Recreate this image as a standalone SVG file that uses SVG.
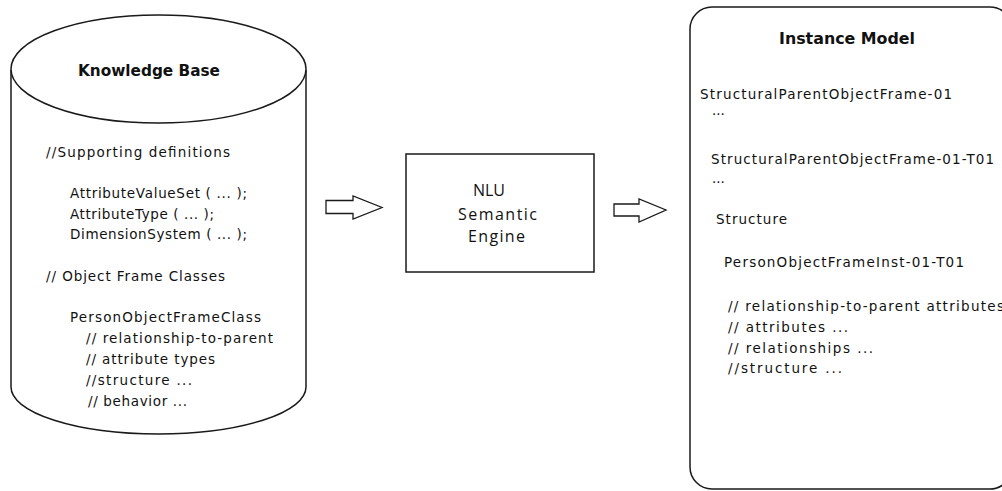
<svg xmlns="http://www.w3.org/2000/svg" width="1002" height="491" viewBox="0 0 1002 491">
<style>
.sh{fill:#fff;stroke:#1a1a1a;stroke-width:1.5}
.t{font-family:"DejaVu Sans",Verdana,sans-serif;font-size:13.5px;fill:#111}
.b{font-family:"DejaVu Sans",Verdana,sans-serif;font-size:15px;font-weight:bold;fill:#111}
.n{font-family:"Open Sans","DejaVu Sans",sans-serif;font-size:16px;fill:#111}
.ar{fill:#fff;stroke:#1a1a1a;stroke-width:1.3}
</style>
<rect width="1002" height="491" fill="#fff"/>
<g id="kb">
<path class="sh" d="M11,70 L11,387 A147.5,47 0 0 0 306,387 L306,70"/>
<ellipse class="sh" cx="158.5" cy="69" rx="147.5" ry="54"/>
<text class="b" x="78" y="76" textLength="142" lengthAdjust="spacingAndGlyphs">Knowledge Base</text>
<text class="t" x="46" y="157" textLength="184">//Supporting definitions</text>
<text class="t" x="70" y="198" textLength="177">AttributeValueSet ( ... );</text>
<text class="t" x="70" y="219" textLength="144">AttributeType ( ... );</text>
<text class="t" x="70" y="239" textLength="177">DimensionSystem ( ... );</text>
<text class="t" x="46" y="281" textLength="179">// Object Frame Classes</text>
<text class="t" x="70" y="322" textLength="191">PersonObjectFrameClass</text>
<text class="t" x="86" y="343" textLength="187">// relationship-to-parent</text>
<text class="t" x="86" y="364" textLength="129">// attribute types</text>
<text class="t" x="86" y="385" textLength="106">//structure ...</text>
<text class="t" x="88" y="406" textLength="99">// behavior ...</text>
</g>
<g id="nlu">
<rect class="sh" x="406" y="154" width="188" height="118"/>
<text class="n" x="473" y="196" textLength="32">NLU</text>
<text class="n" x="458" y="220" textLength="79">Semantic</text>
<text class="n" x="468" y="242" textLength="57">Engine</text>
</g>
<g id="instance">
<rect class="sh" x="690" y="7" width="322" height="482" rx="22" ry="22"/>
<text class="b" x="779" y="44" textLength="136" lengthAdjust="spacingAndGlyphs">Instance Model</text>
<text class="t" x="700" y="99" textLength="252">StructuralParentObjectFrame-01</text>
<text class="t" x="712" y="115">...</text>
<text class="t" x="711" y="164" textLength="283">StructuralParentObjectFrame-01-T01</text>
<text class="t" x="712" y="183">...</text>
<text class="t" x="716" y="224" textLength="71">Structure</text>
<text class="t" x="724" y="267" textLength="240">PersonObjectFrameInst-01-T01</text>
<text class="t" x="728" y="311" textLength="276">// relationship-to-parent attributes</text>
<text class="t" x="728" y="332" textLength="120">// attributes ...</text>
<text class="t" x="728" y="353" textLength="145">// relationships ...</text>
<text class="t" x="728" y="373" textLength="114">//structure ...</text>
</g>
<g id="connectors">
<polygon class="ar" points="326,200.5 353,200.5 353,196 382,207.5 353,219 353,213.5 326,213.5"/>
<polygon class="ar" points="614,204 639,204 639,199 666,210 639,222 639,216 614,216"/>
</g>
</svg>
